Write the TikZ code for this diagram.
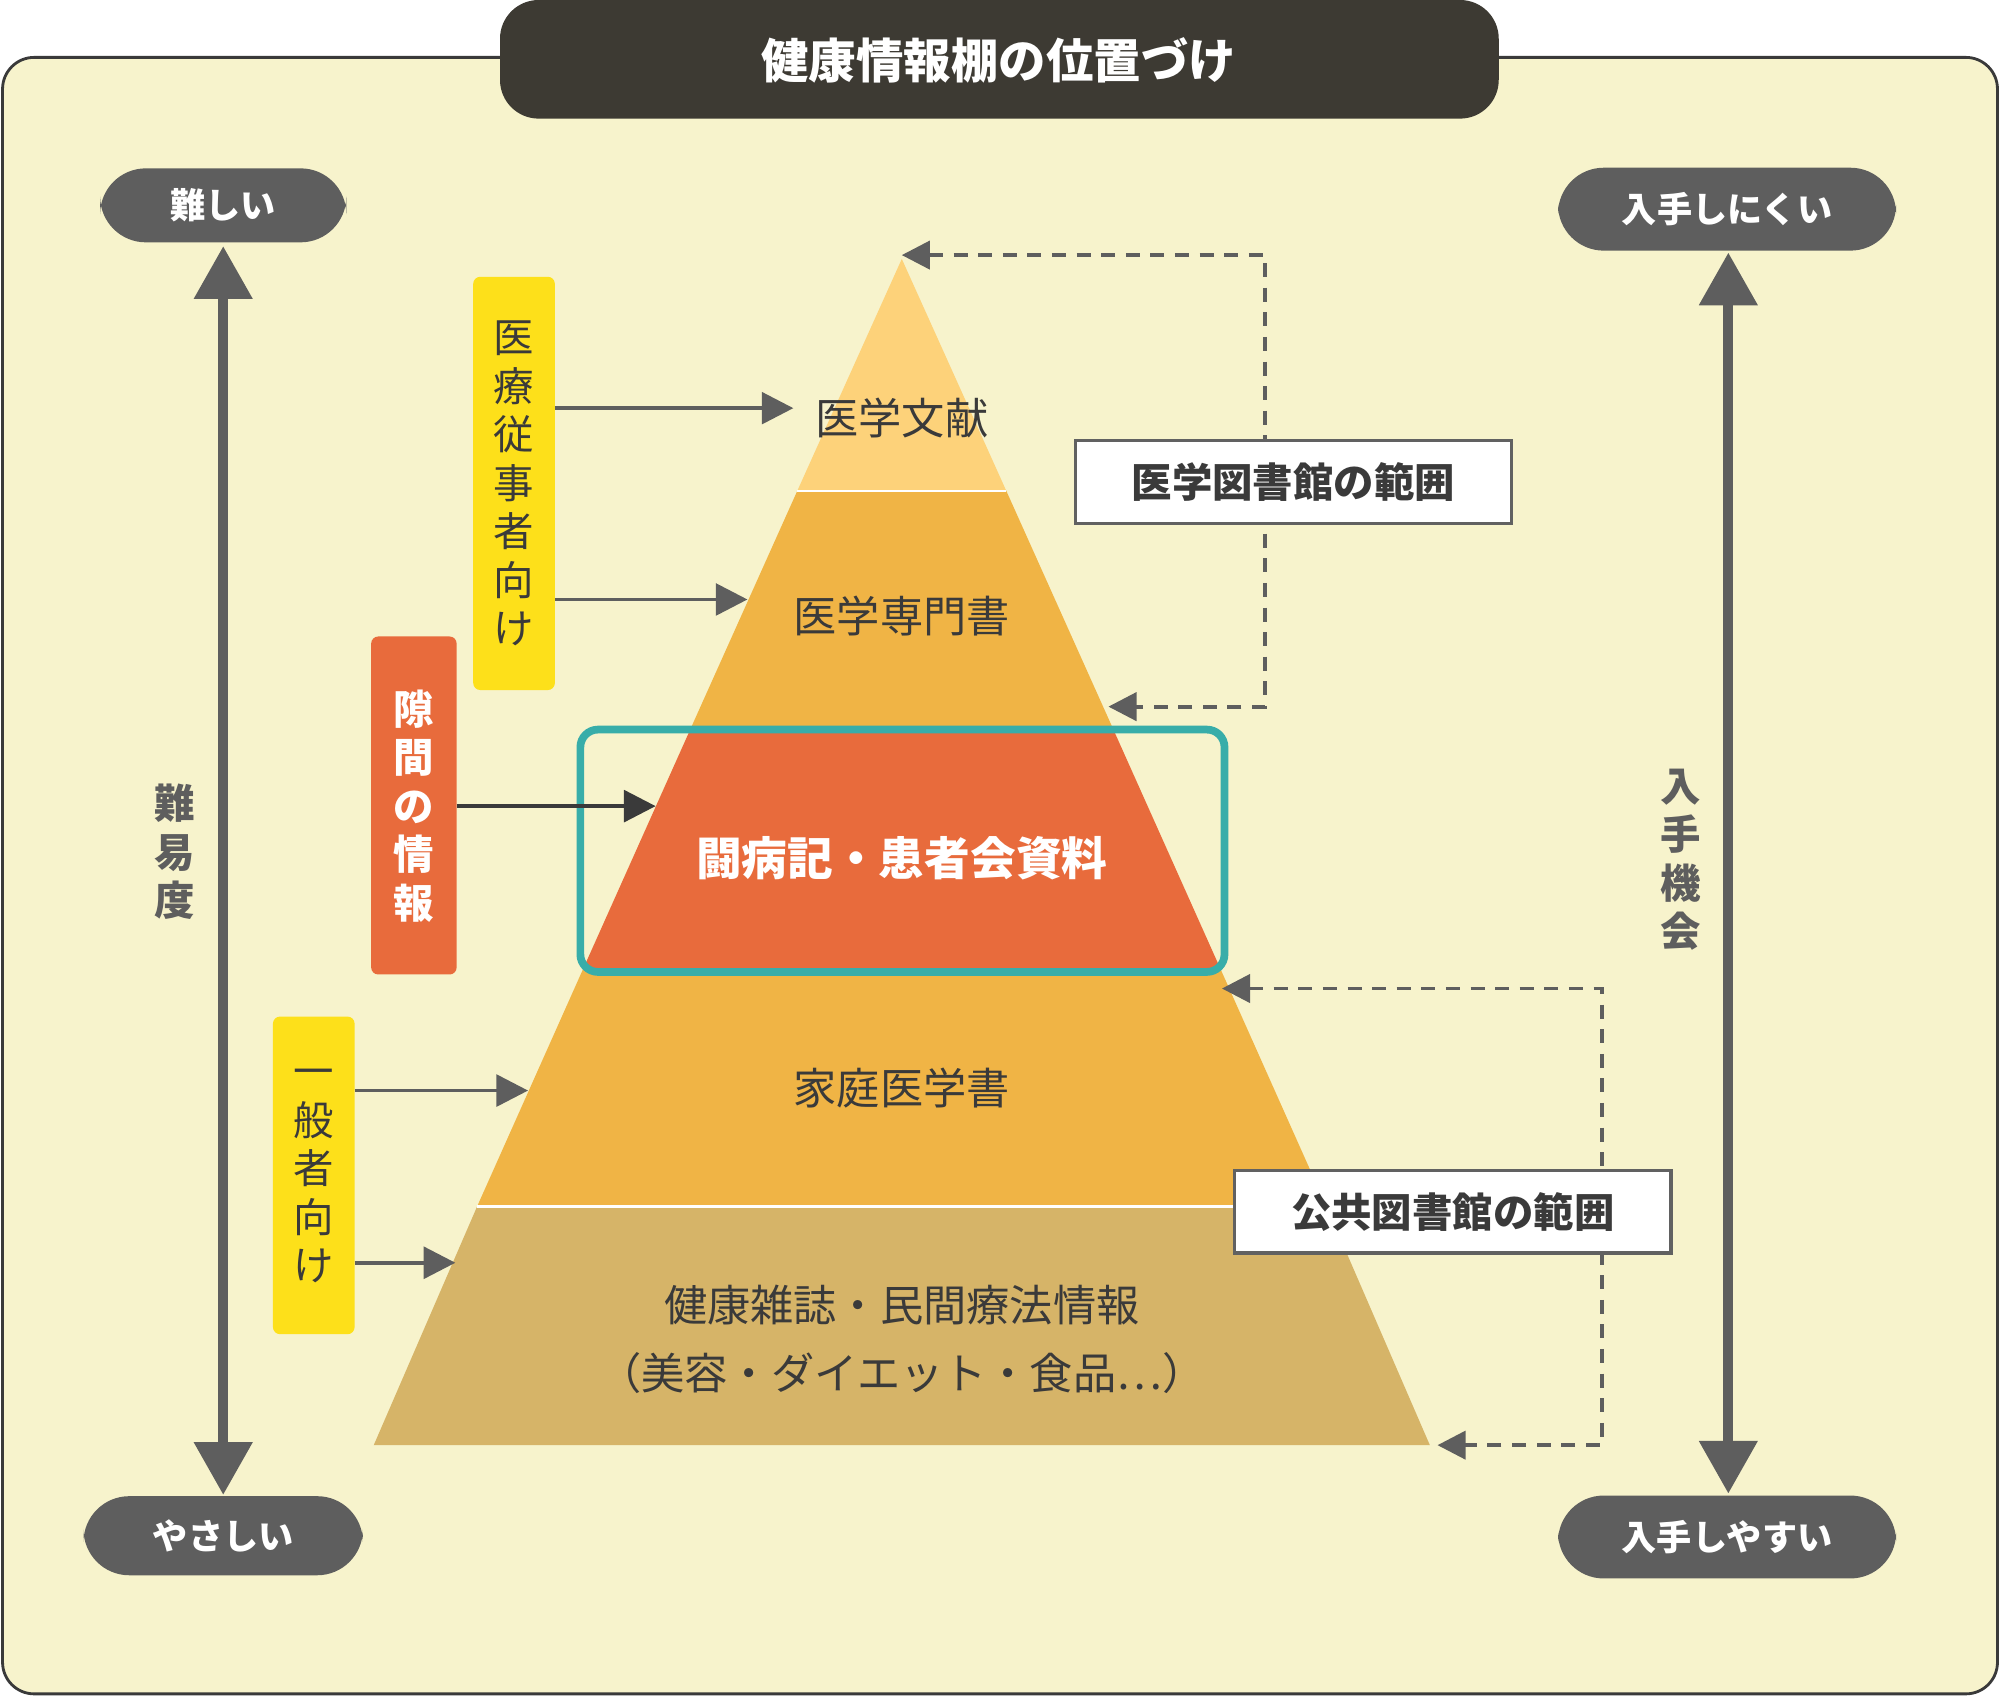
\documentclass[tikz,border=0pt]{standalone}
\usepackage{fontspec}
\setmainfont{Noto Sans CJK JP}
\usetikzlibrary{arrows.meta,positioning}
\definecolor{cream}{HTML}{F7F3CC}
\definecolor{darkbar}{HTML}{3D3A33}
\definecolor{pillgray}{HTML}{5E5E5E}
\definecolor{txt}{HTML}{3A3A3A}
\definecolor{layA}{HTML}{FDD27A}
\definecolor{layB}{HTML}{F0B445}
\definecolor{layC}{HTML}{E86B3C}
\definecolor{layD}{HTML}{D6B468}
\definecolor{tagyel}{HTML}{FDE01A}
\definecolor{teal}{HTML}{38ADA9}
\tikzset{
  pill/.style={fill=pillgray,text=white,rounded corners=13pt,font=\fontsize{10}{12}\selectfont\bfseries},
  tag/.style={inner sep=0pt,align=center,font=\fontsize{11.5}{13.8}\selectfont,text=txt},
  layer/.style={text=txt,font=\fontsize{12.3}{14}\selectfont},
  rangebox/.style={draw=txt!80,line width=1pt,fill=white,inner sep=0pt,text=txt,font=\fontsize{11.5}{13}\selectfont\bfseries},
  feed/.style={draw=pillgray,line width=1.1pt,-{Triangle[length=9pt,width=9pt]}},
  libline/.style={draw=pillgray,line width=1.1pt,dash pattern=on 4pt off 3pt,{Triangle[length=8pt,width=8pt]}-{Triangle[length=8pt,width=8pt]}},
  axis/.style={draw=pillgray,line width=2.9pt,{Triangle[length=15pt,width=16pt]}-{Triangle[length=15pt,width=16pt]}}
}
\begin{document}
\begin{tikzpicture}[x=0.01276cm,y=-0.01276cm]
\useasboundingbox (0,0) rectangle (1568,1330);
% frame and title
\draw[fill=cream,draw=txt,line width=0.8pt,rounded corners=9pt] (2,45) rectangle (1566,1328);
\fill[darkbar,rounded corners=11pt] (392,0) rectangle (1175,93);
\node[text=white,font=\fontsize{13.5}{15}\selectfont\bfseries] (title) at (783,47) {健康情報棚の位置づけ};
% pyramid layers
\fill[layA] (707,203) -- (789,385) -- (625,385) -- cycle;
\fill[layB] (625,385) -- (789,385) -- (872,570) -- (542,570) -- cycle;
\fill[layC] (542,570) -- (872,570) -- (957,760) -- (457,760) -- cycle;
\fill[layB] (457,760) -- (957,760) -- (1040,946) -- (374,946) -- cycle;
\fill[layD] (374,946) -- (1040,946) -- (1121,1133) -- (293,1133) -- cycle;
\draw[white,line width=0.8pt] (625,385) -- (789,385) (374,946) -- (1040,946);
\draw[teal,line width=2.2pt,rounded corners=5pt] (455,572) rectangle (960,762);
\node[layer] (lit) at (707,328) {医学文献};
\node[layer] (pro) at (707,483) {医学専門書};
\node[layer,text=white,font=\fontsize{13}{15}\selectfont\bfseries] (gap) at (707,673) {闘病記・患者会資料};
\node[layer] (home) at (707,853) {家庭医学書};
\node[layer,align=center,font=\fontsize{12.3}{19.5}\selectfont] (mag) at (707,1050) {健康雑誌・民間療法情報\\（美容・ダイエット・食品…）};
% tags on the left
\fill[tagyel,rounded corners=2pt] (371,217) rectangle (435,541);
\node[tag] (staff) at (403,379) {医\\療\\従\\事\\者\\向\\け};
\fill[layC,rounded corners=2pt] (291,499) rectangle (358,764);
\node[tag,text=white,font=\fontsize{11.5}{13.8}\selectfont\bfseries] (gapinfo) at (324,632) {隙\\間\\の\\情\\報};
\fill[tagyel,rounded corners=2pt] (214,797) rectangle (278,1046);
\node[tag] (public) at (246,922) {一\\般\\者\\向\\け};
\draw[feed] (435,320) -- (622,320);
\draw[feed] (435,470) -- (586,470);
\draw[feed,draw=txt] (358,632) -- (514,632);
\draw[feed] (278,855) -- (414,855);
\draw[feed] (278,990) -- (357,990);
% library ranges
\draw[libline] (707,200) -- (992,200) -- (992,554) -- (869,554);
\node[rangebox,minimum width=342*0.01276cm,minimum height=65*0.01276cm] (medlib) at (1014,378) {医学図書館の範囲};
\draw[libline] (958,775) -- (1256,775) -- (1256,1133) -- (1127,1133);
\node[rangebox,minimum width=342*0.01276cm,minimum height=65*0.01276cm] (publib) at (1139,950) {公共図書館の範囲};
% axes
\node[pill,minimum width=193*0.01276cm,minimum height=58*0.01276cm] (hard) at (175,161) {難しい};
\node[pill,minimum width=219*0.01276cm,minimum height=62*0.01276cm] (easy) at (175,1204) {やさしい};
\draw[axis] (175,193) -- (175,1172);
\node[tag,text=pillgray,font=\fontsize{11.5}{13.8}\selectfont\bfseries] (diff) at (137,668) {難\\易\\度};
\node[pill,minimum width=265*0.01276cm,minimum height=65*0.01276cm] (rare) at (1354,164) {入手しにくい};
\node[pill,minimum width=265*0.01276cm,minimum height=65*0.01276cm] (common) at (1354,1205) {入手しやすい};
\draw[axis] (1355,198) -- (1355,1171);
\node[tag,text=pillgray,font=\fontsize{11.5}{13.8}\selectfont\bfseries] (chance) at (1318,674) {入\\手\\機\\会};
\end{tikzpicture}
\end{document}
